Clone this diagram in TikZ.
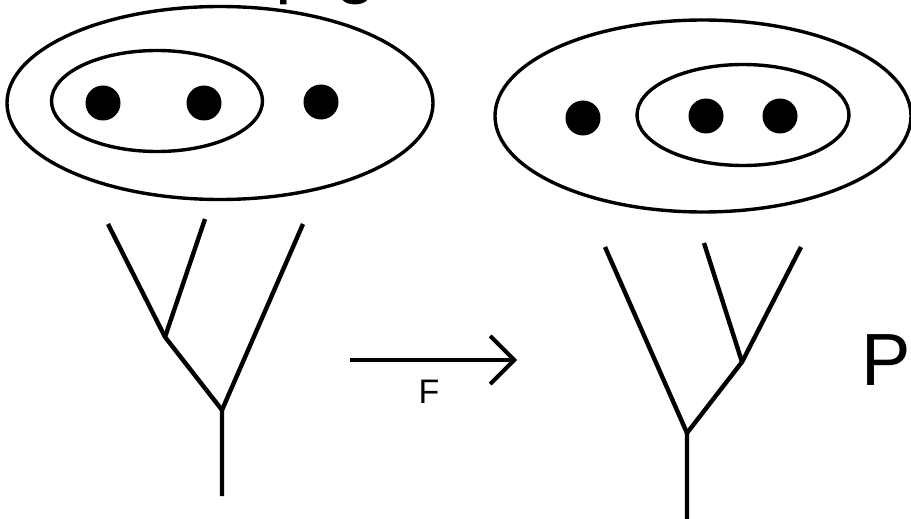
\documentclass[tikz,border=0pt]{standalone}
\usepackage{fontspec}
\setmainfont{Liberation Sans}
\usetikzlibrary{shapes.geometric,arrows.meta}
\begin{document}
\begin{tikzpicture}[x=1pt,y=-1pt,
  oval/.style={draw,ellipse,line width=3.4pt,inner sep=0pt,outer sep=0pt},
  dot/.style={fill,circle,minimum size=35pt,inner sep=0pt},
  branch/.style={line width=4.4pt,line cap=butt,line join=miter},
  maparrow/.style={line width=3.6pt,-{Straight Barb[length=24pt,width=48pt,line width=4pt]}},
  big/.style={font=\fontsize{74}{80}\selectfont,inner sep=0pt,anchor=base west},
  lab/.style={font=\fontsize{34}{38}\selectfont,inner sep=0pt}]
\useasboundingbox (0,0) rectangle (911,519);
% top title fragments (cut off by the page edge)
\node[big] (tp) at (275,-10.5) {p};
\node[big] (tg) at (335,-10.5) {g};
% left sets
\node[oval,minimum width=426pt,minimum height=193pt] (Lout) at (220,103) {};
\node[oval,minimum width=211pt,minimum height=101pt] (Lin) at (157,101) {};
\node[dot] (l1) at (103,103) {};
\node[dot] (l2) at (204,103) {};
\node[dot] (l3) at (321,102) {};
% right sets
\node[oval,minimum width=416pt,minimum height=192pt] (Rout) at (703,116) {};
\node[oval,minimum width=212pt,minimum height=101pt] (Rin) at (743,115) {};
\node[dot] (r1) at (583,118) {};
\node[dot] (r2) at (706,116) {};
\node[dot] (r3) at (780,116) {};
% left tree
\coordinate (la) at (108,224);
\coordinate (lb) at (205,219);
\coordinate (lc) at (303,224);
\coordinate (lj) at (165,337);
\coordinate (lm) at (222,410);
\coordinate (lr) at (222,496);
\draw[branch] (la) -- (lj) -- (lm) -- (lr);
\draw[branch] (lb) -- (lj);
\draw[branch] (lc) -- (lm);
% right tree
\coordinate (ra) at (605,247);
\coordinate (rb) at (704,243);
\coordinate (rc) at (801,247);
\coordinate (rj) at (742,362);
\coordinate (rm) at (687,433);
\coordinate (rr) at (687,519);
\draw[branch] (rc) -- (rj) -- (rm) -- (rr);
\draw[branch] (rb) -- (rj);
\draw[branch] (ra) -- (rm);
% map arrow
\coordinate (as) at (350,360);
\coordinate (ae) at (517,360);
\draw[maparrow] (as) -- (ae);
\node[lab,anchor=north] (F) at (429,380) {F};
% right text fragment
\node[big] (pr) at (861,385) {Pr};
\end{tikzpicture}
\end{document}
